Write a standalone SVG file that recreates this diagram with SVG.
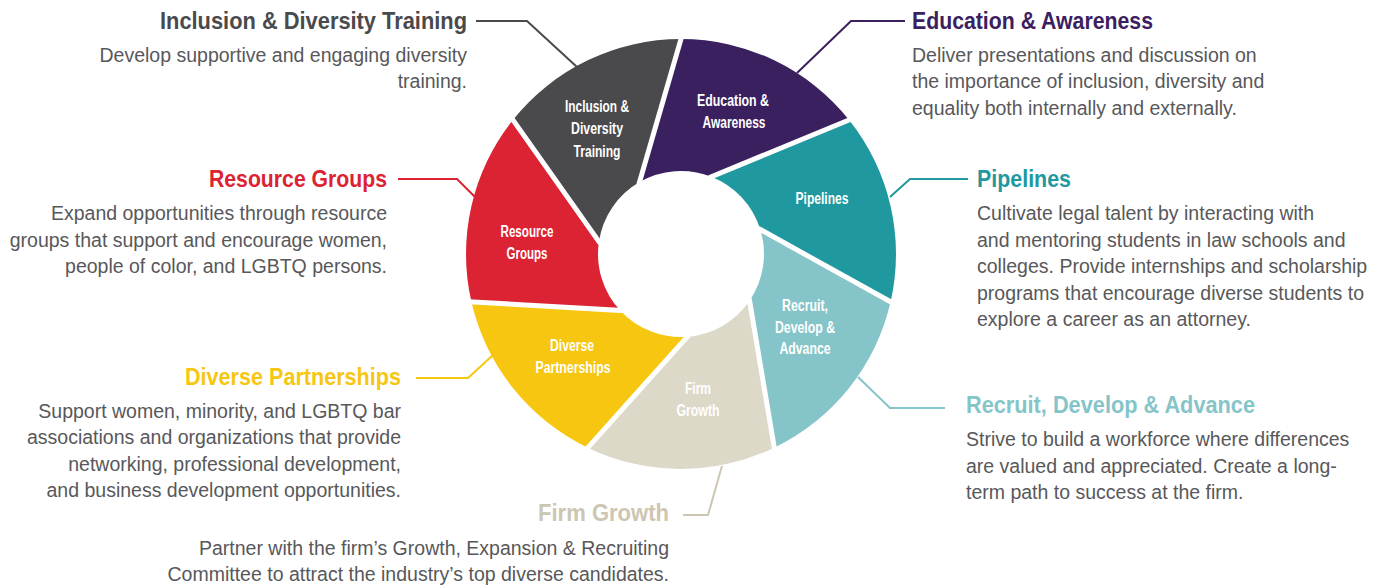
<svg xmlns="http://www.w3.org/2000/svg" width="1377" height="588" viewBox="0 0 1377 588">
<style>
.title{font-family:"Liberation Sans",Arial,sans-serif;font-weight:bold;font-size:24px}
.body{font-family:"Liberation Sans",Arial,sans-serif;font-size:19.5px;fill:#58585a}
.lbl{font-family:"Liberation Sans",Arial,sans-serif;font-weight:bold;font-size:16px;fill:#fff;text-anchor:middle}
.end{text-anchor:end}
.conn{fill:none;stroke-width:2}
.gap{stroke:#fff;stroke-width:5;stroke-linecap:square}
</style>
<rect width="1377" height="588" fill="#fff"/>
<g id="ring">
<path id="seg-education" d="M681,39 A215,215 0 0 1 849.09,119.95 L711.32,176.74 A83,83 0 0 0 639.5,182.12 Z" fill="#3b2060"/>
<path id="seg-pipelines" d="M849.09,119.95 A215,215 0 0 1 890.61,301.84 L760.31,229.53 A83,83 0 0 0 711.32,176.74 Z" fill="#1f999f"/>
<path id="seg-recruit" d="M890.61,301.84 A215,215 0 0 1 774.28,447.71 L749.58,300.76 A83,83 0 0 0 760.31,229.53 Z" fill="#85c4c8"/>
<path id="seg-firm" d="M774.28,447.71 A215,215 0 0 1 587.72,447.71 L687.2,336.77 A83,83 0 0 0 749.58,300.76 Z" fill="#ddd9c9"/>
<path id="seg-diverse" d="M587.72,447.71 A215,215 0 0 1 471.39,301.84 L620.16,310.45 A83,83 0 0 0 687.2,336.77 Z" fill="#f7c611"/>
<path id="seg-resource" d="M471.39,301.84 A215,215 0 0 1 512.91,119.95 L598.93,241.63 A83,83 0 0 0 620.16,310.45 Z" fill="#db2333"/>
<path id="seg-inclusion" d="M512.91,119.95 A215,215 0 0 1 681,39 L639.5,182.12 A83,83 0 0 0 598.93,241.63 Z" fill="#4a4a4c"/>
</g>
<g id="gaps">
<line class="gap" x1="639.5" y1="182.12" x2="681" y2="39"/>
<line class="gap" x1="711.32" y1="176.74" x2="849.09" y2="119.95"/>
<line class="gap" x1="760.31" y1="229.53" x2="890.61" y2="301.84"/>
<line class="gap" x1="749.58" y1="300.76" x2="774.28" y2="447.71"/>
<line class="gap" x1="687.2" y1="336.77" x2="587.72" y2="447.71"/>
<line class="gap" x1="620.16" y1="310.45" x2="471.39" y2="301.84"/>
<line class="gap" x1="598.93" y1="241.63" x2="512.91" y2="119.95"/>
</g>
<g id="connectors">
<path class="conn" stroke="#4a4a4c" d="M476,21 H527 L577,67"/>
<path class="conn" stroke="#3b2060" d="M905,21 H851 L797,73"/>
<path class="conn" stroke="#1f999f" d="M968,179 H910 L890,197"/>
<path class="conn" stroke="#db2333" d="M398,179 H457 L475,197"/>
<path class="conn" stroke="#f7c611" d="M416,378 H468 L493,355"/>
<path class="conn" stroke="#85c4c8" d="M945,408 H890 L858,377"/>
<path class="conn" stroke="#cdc6b1" d="M683,515 H708 L722,466"/>
</g>
<g id="node-inclusion">
<text class="lbl" x="597" y="112" textLength="64" lengthAdjust="spacingAndGlyphs">Inclusion &amp;</text>
<text class="lbl" x="597" y="134" textLength="52" lengthAdjust="spacingAndGlyphs">Diversity</text>
<text class="lbl" x="597" y="157" textLength="47" lengthAdjust="spacingAndGlyphs">Training</text>
<text class="title end" x="467" y="29" fill="#4a4a4c" textLength="307" lengthAdjust="spacingAndGlyphs">Inclusion &amp; Diversity Training</text>
<text class="body end" x="467" y="62">Develop supportive and engaging diversity</text>
<text class="body end" x="467" y="88">training.</text>
</g>
<g id="node-education">
<text class="lbl" x="733" y="106" textLength="72" lengthAdjust="spacingAndGlyphs">Education &amp;</text>
<text class="lbl" x="734" y="128" textLength="63" lengthAdjust="spacingAndGlyphs">Awareness</text>
<text class="title" x="912" y="29" fill="#3b2060" textLength="241" lengthAdjust="spacingAndGlyphs">Education &amp; Awareness</text>
<text class="body" x="912" y="62">Deliver presentations and discussion on</text>
<text class="body" x="912" y="88">the importance of inclusion, diversity and</text>
<text class="body" x="912" y="115">equality both internally and externally.</text>
</g>
<g id="node-pipelines">
<text class="lbl" x="822" y="204" textLength="53" lengthAdjust="spacingAndGlyphs">Pipelines</text>
<text class="title" x="977" y="187" fill="#1f999f" textLength="94" lengthAdjust="spacingAndGlyphs">Pipelines</text>
<text class="body" x="977" y="220">Cultivate legal talent by interacting with</text>
<text class="body" x="977" y="247">and mentoring students in law schools and</text>
<text class="body" x="977" y="273">colleges. Provide internships and scholarship</text>
<text class="body" x="977" y="300">programs that encourage diverse students to</text>
<text class="body" x="977" y="326">explore a career as an attorney.</text>
</g>
<g id="node-recruit">
<text class="lbl" x="805" y="311" textLength="46" lengthAdjust="spacingAndGlyphs">Recruit,</text>
<text class="lbl" x="805" y="333" textLength="60" lengthAdjust="spacingAndGlyphs">Develop &amp;</text>
<text class="lbl" x="805" y="354" textLength="51" lengthAdjust="spacingAndGlyphs">Advance</text>
<text class="title" x="966" y="413" fill="#85c4c8" textLength="289" lengthAdjust="spacingAndGlyphs">Recruit, Develop &amp; Advance</text>
<text class="body" x="966" y="446">Strive to build a workforce where differences</text>
<text class="body" x="966" y="473">are valued and appreciated. Create a long-</text>
<text class="body" x="966" y="499">term path to success at the firm.</text>
</g>
<g id="node-firm">
<text class="lbl" x="698" y="394" textLength="26" lengthAdjust="spacingAndGlyphs">Firm</text>
<text class="lbl" x="698" y="416" textLength="43" lengthAdjust="spacingAndGlyphs">Growth</text>
<text class="title end" x="669" y="521" fill="#cdc6b1" textLength="131" lengthAdjust="spacingAndGlyphs">Firm Growth</text>
<text class="body end" x="669" y="555">Partner with the firm’s Growth, Expansion &amp; Recruiting</text>
<text class="body end" x="669" y="581">Committee to attract the industry’s top diverse candidates.</text>
</g>
<g id="node-diverse">
<text class="lbl" x="572" y="351" textLength="44" lengthAdjust="spacingAndGlyphs">Diverse</text>
<text class="lbl" x="573" y="373" textLength="75" lengthAdjust="spacingAndGlyphs">Partnerships</text>
<text class="title end" x="401" y="385" fill="#f7c611" textLength="216" lengthAdjust="spacingAndGlyphs">Diverse Partnerships</text>
<text class="body end" x="401" y="418">Support women, minority, and LGBTQ bar</text>
<text class="body end" x="401" y="444">associations and organizations that provide</text>
<text class="body end" x="401" y="471">networking, professional development,</text>
<text class="body end" x="401" y="497">and business development opportunities.</text>
</g>
<g id="node-resource">
<text class="lbl" x="527" y="237" textLength="53" lengthAdjust="spacingAndGlyphs">Resource</text>
<text class="lbl" x="527" y="259" textLength="41" lengthAdjust="spacingAndGlyphs">Groups</text>
<text class="title end" x="387" y="187" fill="#db2333" textLength="178" lengthAdjust="spacingAndGlyphs">Resource Groups</text>
<text class="body end" x="387" y="220">Expand opportunities through resource</text>
<text class="body end" x="387" y="247">groups that support and encourage women,</text>
<text class="body end" x="387" y="273">people of color, and LGBTQ persons.</text>
</g>
</svg>
